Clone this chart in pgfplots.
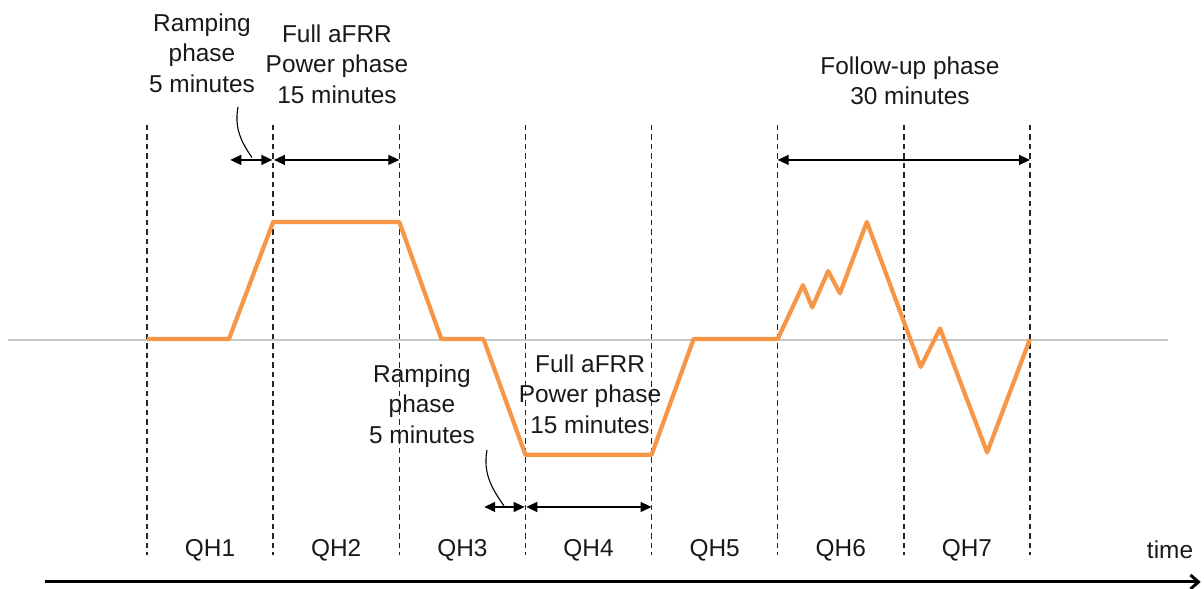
\documentclass[border=0pt]{standalone}
\usepackage{pgfplots}
\pgfplotsset{compat=1.18}
\usepackage{fontspec}
\setmainfont{Liberation Sans}
\usetikzlibrary{arrows.meta}
\definecolor{aorange}{RGB}{247,150,70}
\definecolor{txt}{RGB}{25,25,25}
\begin{document}
\begin{tikzpicture}
\begin{axis}[
  scale only axis, width=1204bp, height=589bp,
  hide axis, clip=false,
  xmin=-17.48, xmax=125.69,
  ymin=-2.137, ymax=2.897,
]
\coordinate (sw) at (rel axis cs:0,0);
\coordinate (ne) at (rel axis cs:1,1);
% baseline
\addplot[color=black!22, line width=1.5bp] coordinates {(-16.53,-0.01) (121.4,-0.01)};
% quarter-hour boundaries
\pgfplotsinvokeforeach{0,15,30,45,60,75,90,105}{
  \addplot[black!85, line width=1.4bp, dash pattern=on 5.5bp off 4bp] coordinates {(#1,1.829) (#1,-1.846)};
}
% aFRR signal
\addplot[aorange, line width=4.2bp, line join=round] coordinates {
(0,0) (9.75,0) (15,1) (30,1) (35,0) (40,0) (45,-0.99) (60,-0.99) (65,0) (75,0)
(78.0,0.46) (79.1,0.27) (81.0,0.58) (82.4,0.39) (85.6,1.0) (92.0,-0.24)
(94.3,0.09) (99.9,-0.97) (105,0)};
% phase arrows
\addplot[black, line width=1.4bp, {Triangle[length=11bp,width=10bp]}-{Triangle[length=11bp,width=10bp]}] coordinates {(9.9,1.530) (14.9,1.530)};
\addplot[black, line width=1.4bp, {Triangle[length=11bp,width=10bp]}-{Triangle[length=11bp,width=10bp]}] coordinates {(15.1,1.530) (30,1.530)};
\addplot[black, line width=1.4bp, {Triangle[length=11bp,width=10bp]}-{Triangle[length=11bp,width=10bp]}] coordinates {(40.1,-1.436) (44.9,-1.436)};
\addplot[black, line width=1.4bp, {Triangle[length=11bp,width=10bp]}-{Triangle[length=11bp,width=10bp]}] coordinates {(45.1,-1.436) (60,-1.436)};
\addplot[black, line width=1.4bp, {Triangle[length=11bp,width=10bp]}-{Triangle[length=11bp,width=10bp]}] coordinates {(75,1.530) (105,1.530)};
% callout curves
\draw[black, line width=1.1bp] (axis cs:10.82,1.983) to[out=-100,in=125] (axis cs:12.49,1.55);
\draw[black, line width=1.1bp] (axis cs:40.43,-0.949) to[out=-100,in=125] (axis cs:42.45,-1.427);
% texts
\tikzset{lab/.style={align=center, text=txt, font=\fontsize{24.5}{30.5}\selectfont, inner sep=0pt}}
\node[lab] at (axis cs:6.54,2.444) {Ramping\\phase\\5 minutes};
\node[lab] at (axis cs:22.59,2.350) {Full aFRR\\Power phase\\15 minutes};
\node[lab] at (axis cs:32.70,-0.556) {Ramping\\phase\\5 minutes};
\node[lab] at (axis cs:52.68,-0.470) {Full aFRR\\Power phase\\15 minutes};
\node[lab] at (axis cs:90.73,2.205) {Follow-up phase\\30 minutes};
\node[lab] at (axis cs:7.5,-1.803) {QH1};
\node[lab] at (axis cs:22.5,-1.803) {QH2};
\node[lab] at (axis cs:37.5,-1.803) {QH3};
\node[lab] at (axis cs:52.5,-1.803) {QH4};
\node[lab] at (axis cs:67.5,-1.803) {QH5};
\node[lab] at (axis cs:82.5,-1.803) {QH6};
\node[lab] at (axis cs:97.5,-1.803) {QH7};
\node[lab] at (axis cs:121.65,-1.803) {time};
% time axis arrow
\addplot[black, line width=3bp, -{Straight Barb[length=8bp,width=14bp]}] coordinates {(-12.13,-2.077) (125.3,-2.077)};
\end{axis}
\pgfresetboundingbox
\path (sw) rectangle (ne);
\end{tikzpicture}
\end{document}
